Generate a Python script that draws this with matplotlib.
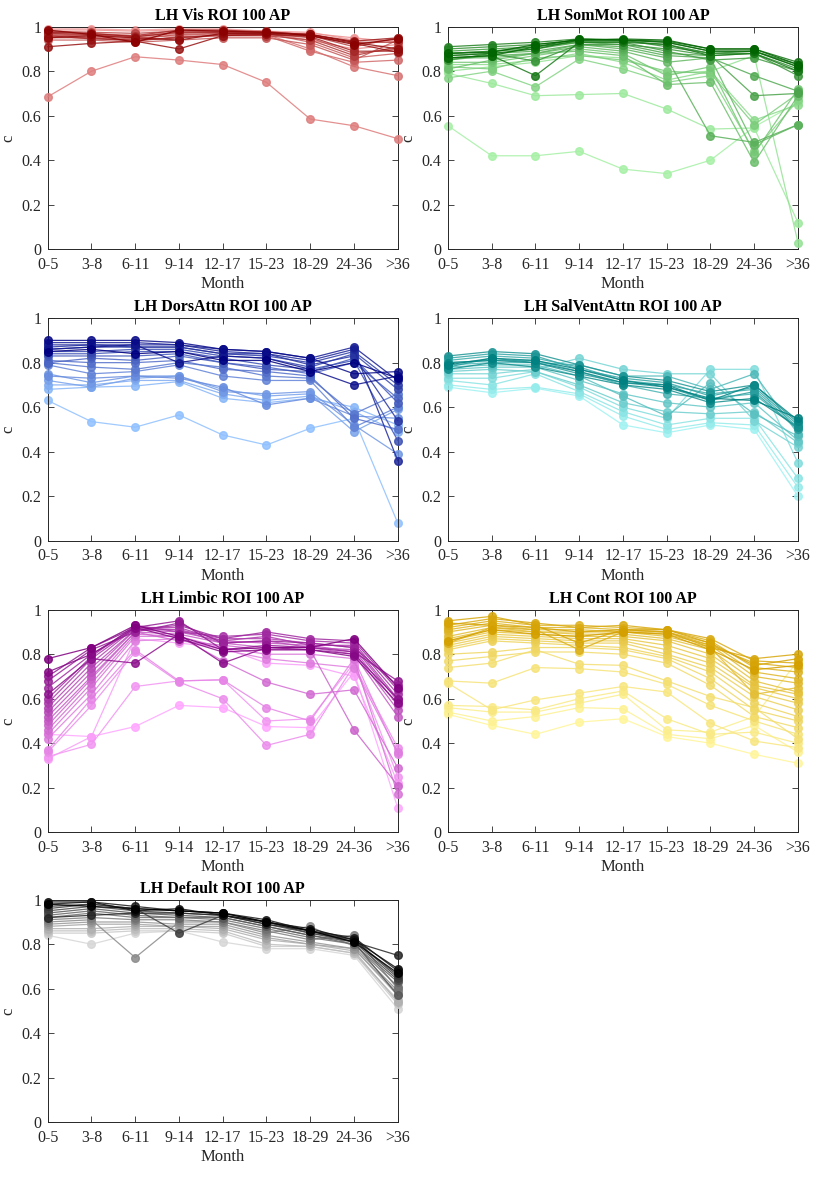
import numpy as np
import matplotlib
matplotlib.use("Agg")
import matplotlib.pyplot as plt
from matplotlib.colors import to_rgb

plt.rcParams['font.family'] = ['Liberation Serif', 'DejaVu Serif']

months = ['0-5', '3-8', '6-11', '9-14', '12-17', '15-23', '18-29', '24-36', '>36']

# each network: list of ROI curves, ordered from lightest to darkest colour
vis = [
    [0.99, 0.99, 0.985, 0.99, 0.99, 0.98, 0.975, 0.94, 0.94],
    [0.985, 0.985, 0.98, 0.985, 0.985, 0.975, 0.97, 0.95, 0.93],
    [0.975, 0.97, 0.96, 0.975, 0.98, 0.97, 0.94, 0.90, 0.92],
    [0.685, 0.80, 0.865, 0.85, 0.83, 0.75, 0.585, 0.555, 0.497],
    [0.96, 0.965, 0.95, 0.96, 0.97, 0.965, 0.90, 0.82, 0.78],
    [0.95, 0.95, 0.94, 0.95, 0.96, 0.96, 0.89, 0.84, 0.85],
    [0.97, 0.96, 0.955, 0.97, 0.975, 0.97, 0.93, 0.86, 0.88],
    [0.94, 0.94, 0.93, 0.94, 0.95, 0.95, 0.92, 0.85, 0.94],
    [0.965, 0.955, 0.945, 0.965, 0.97, 0.97, 0.95, 0.88, 0.90],
    [0.98, 0.975, 0.97, 0.98, 0.98, 0.98, 0.96, 0.91, 0.95],
    [0.955, 0.95, 0.935, 0.955, 0.96, 0.96, 0.94, 0.87, 0.91],
    [0.97, 0.965, 0.96, 0.985, 0.985, 0.975, 0.965, 0.93, 0.93],
    [0.96, 0.945, 0.94, 0.95, 0.965, 0.965, 0.955, 0.89, 0.89],
    [0.975, 0.97, 0.955, 0.975, 0.975, 0.975, 0.965, 0.935, 0.95],
    [0.91, 0.925, 0.935, 0.90, 0.96, 0.965, 0.96, 0.925, 0.885],
    [0.95, 0.96, 0.95, 0.94, 0.97, 0.97, 0.965, 0.93, 0.90],
    [0.985, 0.965, 0.93, 0.985, 0.98, 0.975, 0.96, 0.92, 0.945],
]

sommot = [
    [0.555, 0.42, 0.42, 0.44, 0.36, 0.34, 0.40, 0.55, 0.66],
    [0.79, 0.745, 0.69, 0.695, 0.70, 0.63, 0.54, 0.545, 0.12],
    [0.80, 0.82, 0.84, 0.87, 0.86, 0.79, 0.80, 0.87, 0.03],
    [0.83, 0.83, 0.85, 0.88, 0.84, 0.76, 0.80, 0.58, 0.65],
    [0.77, 0.80, 0.73, 0.855, 0.81, 0.75, 0.78, 0.44, 0.67],
    [0.82, 0.81, 0.86, 0.87, 0.85, 0.80, 0.79, 0.56, 0.70],
    [0.84, 0.84, 0.87, 0.90, 0.88, 0.78, 0.82, 0.43, 0.72],
    [0.81, 0.85, 0.88, 0.89, 0.87, 0.74, 0.75, 0.39, 0.69],
    [0.86, 0.86, 0.88, 0.91, 0.89, 0.84, 0.86, 0.47, 0.56],
    [0.85, 0.87, 0.88, 0.92, 0.90, 0.86, 0.51, 0.48, 0.56],
    [0.87, 0.88, 0.89, 0.92, 0.91, 0.87, 0.86, 0.78, 0.71],
    [0.88, 0.89, 0.90, 0.93, 0.92, 0.88, 0.87, 0.69, 0.70],
    [0.89, 0.90, 0.91, 0.93, 0.93, 0.89, 0.85, 0.86, 0.80],
    [0.85, 0.88, 0.845, 0.92, 0.92, 0.90, 0.87, 0.88, 0.78],
    [0.90, 0.91, 0.92, 0.94, 0.94, 0.91, 0.88, 0.88, 0.81],
    [0.88, 0.89, 0.91, 0.935, 0.935, 0.92, 0.88, 0.89, 0.82],
    [0.91, 0.92, 0.93, 0.945, 0.94, 0.93, 0.89, 0.89, 0.83],
    [0.86, 0.87, 0.78, 0.93, 0.93, 0.92, 0.87, 0.88, 0.80],
    [0.87, 0.88, 0.90, 0.94, 0.94, 0.935, 0.90, 0.90, 0.84],
    [0.86, 0.87, 0.91, 0.945, 0.94, 0.93, 0.89, 0.89, 0.82],
    [0.88, 0.885, 0.92, 0.94, 0.945, 0.94, 0.90, 0.90, 0.83],
]

dorsattn = [
    [0.63, 0.535, 0.51, 0.565, 0.475, 0.43, 0.505, 0.55, 0.08],
    [0.68, 0.69, 0.695, 0.715, 0.64, 0.62, 0.64, 0.60, 0.52],
    [0.70, 0.70, 0.72, 0.72, 0.66, 0.63, 0.65, 0.58, 0.49],
    [0.72, 0.69, 0.73, 0.74, 0.68, 0.65, 0.66, 0.49, 0.59],
    [0.75, 0.71, 0.74, 0.74, 0.67, 0.66, 0.67, 0.52, 0.39],
    [0.74, 0.73, 0.74, 0.73, 0.69, 0.61, 0.64, 0.56, 0.55],
    [0.79, 0.75, 0.76, 0.79, 0.74, 0.72, 0.72, 0.51, 0.60],
    [0.80, 0.78, 0.77, 0.80, 0.78, 0.74, 0.73, 0.57, 0.66],
    [0.81, 0.80, 0.80, 0.81, 0.77, 0.76, 0.74, 0.55, 0.50],
    [0.80, 0.82, 0.81, 0.83, 0.80, 0.78, 0.75, 0.80, 0.64],
    [0.83, 0.83, 0.83, 0.84, 0.80, 0.77, 0.76, 0.82, 0.62],
    [0.84, 0.84, 0.85, 0.85, 0.82, 0.79, 0.77, 0.81, 0.45],
    [0.85, 0.85, 0.86, 0.86, 0.83, 0.82, 0.78, 0.84, 0.68],
    [0.86, 0.87, 0.87, 0.87, 0.84, 0.83, 0.80, 0.85, 0.70],
    [0.87, 0.88, 0.87, 0.87, 0.84, 0.84, 0.79, 0.83, 0.54],
    [0.88, 0.88, 0.88, 0.88, 0.85, 0.84, 0.81, 0.86, 0.36],
    [0.89, 0.89, 0.89, 0.88, 0.86, 0.85, 0.82, 0.87, 0.72],
    [0.86, 0.87, 0.88, 0.80, 0.83, 0.82, 0.77, 0.70, 0.74],
    [0.90, 0.90, 0.90, 0.89, 0.86, 0.85, 0.82, 0.75, 0.76],
    [0.85, 0.86, 0.84, 0.85, 0.81, 0.81, 0.76, 0.80, 0.73],
]

salventattn = [
    [0.69, 0.665, 0.685, 0.65, 0.52, 0.485, 0.52, 0.50, 0.20],
    [0.70, 0.68, 0.69, 0.66, 0.56, 0.50, 0.53, 0.52, 0.24],
    [0.72, 0.70, 0.75, 0.67, 0.58, 0.52, 0.55, 0.55, 0.28],
    [0.73, 0.73, 0.76, 0.69, 0.60, 0.55, 0.77, 0.77, 0.35],
    [0.75, 0.75, 0.77, 0.82, 0.77, 0.75, 0.75, 0.54, 0.42],
    [0.76, 0.77, 0.76, 0.70, 0.62, 0.58, 0.57, 0.58, 0.44],
    [0.77, 0.78, 0.78, 0.72, 0.66, 0.62, 0.60, 0.62, 0.45],
    [0.78, 0.79, 0.79, 0.74, 0.65, 0.56, 0.71, 0.57, 0.47],
    [0.79, 0.80, 0.80, 0.79, 0.74, 0.74, 0.68, 0.75, 0.48],
    [0.80, 0.81, 0.81, 0.76, 0.70, 0.66, 0.64, 0.66, 0.50],
    [0.81, 0.83, 0.82, 0.78, 0.72, 0.70, 0.66, 0.68, 0.51],
    [0.82, 0.84, 0.83, 0.77, 0.73, 0.71, 0.65, 0.69, 0.52],
    [0.78, 0.82, 0.80, 0.75, 0.71, 0.69, 0.63, 0.67, 0.50],
    [0.83, 0.85, 0.84, 0.79, 0.74, 0.72, 0.67, 0.70, 0.53],
    [0.77, 0.80, 0.78, 0.74, 0.70, 0.68, 0.62, 0.64, 0.51],
    [0.80, 0.81, 0.80, 0.76, 0.71, 0.70, 0.63, 0.70, 0.54],
    [0.79, 0.82, 0.81, 0.77, 0.72, 0.69, 0.64, 0.63, 0.55],
]

limbic = [
    [0.44, 0.43, 0.475, 0.57, 0.56, 0.475, 0.47, 0.72, 0.11],
    [0.33, 0.43, 0.87, 0.85, 0.83, 0.76, 0.75, 0.70, 0.22],
    [0.34, 0.395, 0.655, 0.68, 0.685, 0.50, 0.51, 0.76, 0.25],
    [0.36, 0.57, 0.81, 0.675, 0.60, 0.39, 0.44, 0.75, 0.38],
    [0.37, 0.60, 0.82, 0.68, 0.685, 0.56, 0.50, 0.78, 0.35],
    [0.42, 0.62, 0.86, 0.87, 0.82, 0.78, 0.76, 0.74, 0.36],
    [0.44, 0.65, 0.88, 0.88, 0.83, 0.80, 0.80, 0.78, 0.17],
    [0.46, 0.67, 0.89, 0.88, 0.77, 0.675, 0.62, 0.64, 0.29],
    [0.48, 0.69, 0.90, 0.86, 0.84, 0.82, 0.82, 0.46, 0.21],
    [0.50, 0.70, 0.90, 0.89, 0.85, 0.83, 0.83, 0.80, 0.52],
    [0.52, 0.72, 0.91, 0.90, 0.86, 0.85, 0.84, 0.81, 0.55],
    [0.54, 0.74, 0.91, 0.91, 0.85, 0.86, 0.83, 0.82, 0.57],
    [0.56, 0.76, 0.92, 0.91, 0.87, 0.87, 0.85, 0.83, 0.59],
    [0.58, 0.78, 0.92, 0.92, 0.86, 0.88, 0.84, 0.84, 0.60],
    [0.60, 0.79, 0.93, 0.90, 0.88, 0.89, 0.86, 0.85, 0.62],
    [0.65, 0.80, 0.91, 0.93, 0.87, 0.90, 0.87, 0.86, 0.64],
    [0.68, 0.82, 0.90, 0.94, 0.85, 0.86, 0.85, 0.83, 0.66],
    [0.70, 0.83, 0.92, 0.95, 0.82, 0.84, 0.83, 0.81, 0.68],
    [0.62, 0.78, 0.76, 0.89, 0.76, 0.83, 0.82, 0.80, 0.60],
    [0.72, 0.80, 0.92, 0.87, 0.81, 0.82, 0.82, 0.79, 0.58],
    [0.78, 0.83, 0.93, 0.88, 0.82, 0.83, 0.83, 0.87, 0.65],
]

cont = [
    [0.53, 0.48, 0.44, 0.495, 0.51, 0.43, 0.40, 0.35, 0.31],
    [0.54, 0.50, 0.52, 0.56, 0.555, 0.44, 0.42, 0.48, 0.36],
    [0.56, 0.54, 0.54, 0.58, 0.62, 0.46, 0.45, 0.52, 0.77],
    [0.57, 0.565, 0.55, 0.60, 0.635, 0.51, 0.44, 0.45, 0.40],
    [0.67, 0.55, 0.595, 0.625, 0.655, 0.63, 0.49, 0.41, 0.38],
    [0.68, 0.67, 0.74, 0.735, 0.72, 0.665, 0.57, 0.50, 0.44],
    [0.74, 0.76, 0.82, 0.755, 0.75, 0.68, 0.61, 0.56, 0.42],
    [0.77, 0.79, 0.81, 0.81, 0.80, 0.76, 0.66, 0.52, 0.47],
    [0.80, 0.81, 0.83, 0.83, 0.82, 0.78, 0.69, 0.55, 0.50],
    [0.82, 0.86, 0.85, 0.84, 0.83, 0.79, 0.72, 0.58, 0.52],
    [0.83, 0.87, 0.86, 0.85, 0.85, 0.80, 0.74, 0.61, 0.55],
    [0.84, 0.88, 0.87, 0.86, 0.86, 0.82, 0.76, 0.63, 0.58],
    [0.85, 0.89, 0.88, 0.87, 0.87, 0.84, 0.78, 0.65, 0.60],
    [0.86, 0.90, 0.89, 0.88, 0.88, 0.86, 0.80, 0.66, 0.62],
    [0.87, 0.91, 0.90, 0.89, 0.89, 0.87, 0.82, 0.68, 0.63],
    [0.88, 0.92, 0.90, 0.90, 0.90, 0.88, 0.83, 0.62, 0.65],
    [0.90, 0.93, 0.91, 0.91, 0.90, 0.89, 0.84, 0.70, 0.67],
    [0.91, 0.94, 0.92, 0.92, 0.91, 0.90, 0.85, 0.72, 0.69],
    [0.92, 0.95, 0.93, 0.93, 0.92, 0.91, 0.86, 0.74, 0.72],
    [0.85, 0.92, 0.91, 0.82, 0.90, 0.90, 0.84, 0.76, 0.74],
    [0.93, 0.96, 0.94, 0.92, 0.93, 0.91, 0.87, 0.77, 0.76],
    [0.95, 0.97, 0.93, 0.85, 0.91, 0.90, 0.83, 0.78, 0.80],
    [0.94, 0.93, 0.92, 0.90, 0.91, 0.91, 0.85, 0.75, 0.78],
    [0.86, 0.91, 0.89, 0.88, 0.90, 0.89, 0.82, 0.73, 0.75],
]

default = [
    [0.84, 0.80, 0.85, 0.86, 0.81, 0.78, 0.78, 0.75, 0.51],
    [0.85, 0.85, 0.86, 0.86, 0.85, 0.79, 0.79, 0.76, 0.53],
    [0.86, 0.86, 0.87, 0.87, 0.86, 0.80, 0.79, 0.76, 0.55],
    [0.87, 0.87, 0.88, 0.88, 0.87, 0.82, 0.80, 0.77, 0.54],
    [0.88, 0.89, 0.89, 0.88, 0.88, 0.83, 0.80, 0.78, 0.57],
    [0.89, 0.90, 0.90, 0.89, 0.89, 0.84, 0.81, 0.78, 0.58],
    [0.90, 0.91, 0.74, 0.90, 0.90, 0.85, 0.88, 0.79, 0.59],
    [0.91, 0.92, 0.91, 0.91, 0.90, 0.86, 0.82, 0.84, 0.60],
    [0.92, 0.94, 0.92, 0.92, 0.91, 0.87, 0.83, 0.80, 0.61],
    [0.93, 0.95, 0.93, 0.92, 0.92, 0.88, 0.84, 0.80, 0.63],
    [0.94, 0.96, 0.94, 0.93, 0.92, 0.88, 0.84, 0.81, 0.57],
    [0.95, 0.97, 0.95, 0.94, 0.93, 0.89, 0.85, 0.81, 0.64],
    [0.96, 0.98, 0.96, 0.85, 0.93, 0.90, 0.85, 0.82, 0.65],
    [0.97, 0.98, 0.96, 0.95, 0.94, 0.90, 0.86, 0.82, 0.66],
    [0.92, 0.93, 0.94, 0.94, 0.93, 0.89, 0.86, 0.81, 0.75],
    [0.98, 0.99, 0.97, 0.95, 0.94, 0.91, 0.86, 0.83, 0.68],
    [0.99, 0.99, 0.95, 0.96, 0.93, 0.90, 0.87, 0.82, 0.69],
    [0.98, 0.97, 0.96, 0.95, 0.94, 0.90, 0.86, 0.81, 0.67],
]

networks = ['Vis', 'SomMot', 'DorsAttn', 'SalVentAttn', 'Limbic', 'Cont', 'Default']
network_data = [vis, sommot, dorsattn, salventattn, limbic, cont, default]

# (light, dark) colour ends of each network's gradient
gradients = [
    ('#f29a9a', '#8b0000'),
    ('#a6f0a6', '#006400'),
    ('#8fc0ff', '#000080'),
    ('#a0f2f2', '#008080'),
    ('#ffa6ff', '#800080'),
    ('#fff59a', '#d4a000'),
    ('#d6d6d6', '#000000'),
]

fig = plt.figure(figsize=(8.17, 11.92), dpi=100)

lefts = [0.0584, 0.5483]
bottoms = [0.7909, 0.5464, 0.3018, 0.0585]
w, h = 0.4284, 0.1867
axcol = (0.15, 0.15, 0.15)

for k, (name, curves) in enumerate(zip(networks, network_data)):
    ax = fig.add_axes([lefts[k % 2], bottoms[k // 2], w, h])
    light = np.array(to_rgb(gradients[k][0]))
    dark = np.array(to_rgb(gradients[k][1]))
    n = len(curves)
    x = np.arange(len(months))
    for i, c in enumerate(curves):
        t = i / (n - 1)
        col = light * (1 - t) + dark * t
        ax.plot(x, c, '-o', color=col, lw=0.9, ms=5.5, alpha=0.85, clip_on=False, zorder=2 + i)

    ax.set_xlim(0, len(months) - 1)
    ax.set_ylim(0, 1)
    ax.set_xticks(x)
    ax.set_xticklabels(months)
    ax.set_yticks([0, 0.2, 0.4, 0.6, 0.8, 1])
    ax.set_yticklabels(['0', '0.2', '0.4', '0.6', '0.8', '1'])
    ax.tick_params(direction='in', top=True, right=True, length=4, width=0.6,
                   labelsize=11.5, colors=axcol)
    ax.tick_params(axis='x', pad=5.5)
    ax.tick_params(axis='y', pad=4.5)
    for sp in ax.spines.values():
        sp.set_color(axcol)
        sp.set_linewidth(0.7)
    ax.set_title(f'LH {name} ROI 100 AP', fontsize=11.5, fontweight='bold', pad=5)
    ax.set_xlabel('Month', fontsize=12, color=axcol, labelpad=2.5)
    ax.set_ylabel('c', fontsize=12, color=axcol, labelpad=4)

fig.savefig('out.png', dpi=100)
